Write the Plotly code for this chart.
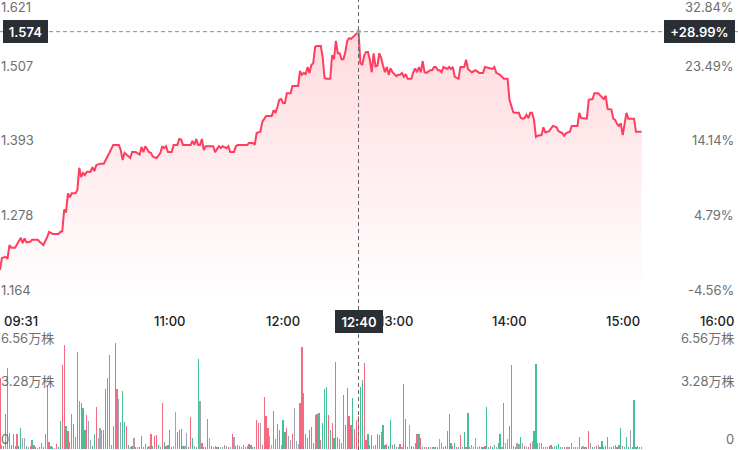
import plotly.graph_objects as go
from datetime import datetime, timedelta

# ---------------- data ----------------
open_time = datetime(2024, 1, 2, 9, 30)

# price line: minutes after 09:30 and price
price_minutes = [
    0, 1, 3, 4, 5, 6, 8, 10, 11, 12,
    13, 14, 16, 17, 20, 21, 23, 25, 26, 28,
    31, 32, 33, 34, 35, 36, 37, 38, 40, 41,
    42, 43, 44, 45, 46, 48, 49, 50, 51, 53,
    55, 56, 57, 58, 60, 63, 64, 65, 66, 67,
    69, 70, 72, 74, 75, 76, 77, 79, 80, 81,
    83, 85, 86, 87, 88, 89, 91, 92, 94, 95,
    96, 97, 101, 102, 103, 104, 105, 106, 107, 108,
    109, 113, 114, 116, 117, 118, 119, 120, 121, 122,
    124, 125, 126, 131, 132, 134, 135, 136, 138, 139,
    141, 144, 145, 146, 147, 148, 149, 150, 151, 152,
    154, 155, 158, 159, 160, 161, 162, 163, 164, 165,
    166, 167, 168, 170, 171, 172, 173, 175, 176, 177,
    178, 179, 180, 181, 182, 183, 184, 185, 186, 187,
    188, 189, 190, 191, 192, 193, 194, 195, 196, 197,
    198, 199, 200, 201, 202, 203, 204, 205, 206, 207,
    208, 210, 211, 212, 213, 214, 215, 216, 218, 219,
    220, 221, 222, 223, 224, 225, 226, 228, 229, 230,
    231, 232, 233, 234, 235, 237, 238, 239, 240, 241,
    242, 243, 244, 246, 247, 248, 250, 252, 254, 256,
    257, 260, 261, 262, 263, 265, 267, 269, 270, 272,
    273, 275, 276, 277, 278, 279, 280, 281, 282, 283,
    284, 285, 287, 288, 289, 291, 293, 295, 296, 298,
    299, 300, 302, 303, 306, 307, 308, 311, 312, 314,
    315, 317, 319, 320, 321, 322, 324, 325, 326, 327,
    328, 329, 330, 331, 332, 333, 336, 337, 340,
]
price_values = [
    1.210, 1.228, 1.230, 1.227, 1.248, 1.244, 1.244, 1.253, 1.259, 1.251,
    1.258, 1.252, 1.253, 1.256, 1.256, 1.253, 1.248, 1.260, 1.268, 1.265,
    1.265, 1.268, 1.269, 1.302, 1.298, 1.327, 1.321, 1.327, 1.327, 1.332,
    1.366, 1.352, 1.358, 1.355, 1.360, 1.360, 1.367, 1.361, 1.370, 1.372,
    1.372, 1.378, 1.383, 1.389, 1.401, 1.401, 1.393, 1.378, 1.389, 1.386,
    1.381, 1.390, 1.390, 1.386, 1.398, 1.390, 1.399, 1.390, 1.389, 1.383,
    1.381, 1.389, 1.399, 1.396, 1.399, 1.390, 1.390, 1.401, 1.401, 1.410,
    1.409, 1.401, 1.401, 1.407, 1.401, 1.410, 1.401, 1.401, 1.410, 1.393,
    1.399, 1.399, 1.390, 1.399, 1.396, 1.399, 1.397, 1.396, 1.399, 1.390,
    1.390, 1.399, 1.401, 1.401, 1.404, 1.404, 1.401, 1.419, 1.421, 1.436,
    1.445, 1.445, 1.454, 1.450, 1.459, 1.470, 1.471, 1.465, 1.465, 1.480,
    1.480, 1.491, 1.491, 1.514, 1.508, 1.511, 1.509, 1.520, 1.511, 1.523,
    1.526, 1.551, 1.552, 1.552, 1.535, 1.503, 1.502, 1.502, 1.538, 1.532,
    1.560, 1.541, 1.541, 1.532, 1.532, 1.543, 1.560, 1.564, 1.563, 1.566,
    1.569, 1.572, 1.574, 1.526, 1.523, 1.538, 1.543, 1.543, 1.531, 1.512,
    1.541, 1.521, 1.522, 1.541, 1.534, 1.522, 1.512, 1.520, 1.508, 1.518,
    1.512, 1.506, 1.508, 1.508, 1.511, 1.505, 1.509, 1.502, 1.502, 1.512,
    1.518, 1.512, 1.520, 1.512, 1.529, 1.512, 1.511, 1.515, 1.515, 1.520,
    1.520, 1.515, 1.515, 1.512, 1.520, 1.517, 1.520, 1.517, 1.520, 1.505,
    1.503, 1.502, 1.520, 1.520, 1.531, 1.517, 1.512, 1.515, 1.511, 1.511,
    1.520, 1.517, 1.517, 1.520, 1.511, 1.508, 1.502, 1.502, 1.470, 1.451,
    1.450, 1.450, 1.442, 1.441, 1.442, 1.447, 1.442, 1.450, 1.450, 1.439,
    1.413, 1.415, 1.416, 1.428, 1.420, 1.422, 1.430, 1.428, 1.422, 1.419,
    1.415, 1.419, 1.421, 1.430, 1.430, 1.450, 1.442, 1.441, 1.470, 1.471,
    1.480, 1.480, 1.473, 1.471, 1.476, 1.456, 1.455, 1.441, 1.439, 1.433,
    1.430, 1.434, 1.416, 1.436, 1.450, 1.441, 1.441, 1.421, 1.421,
]

# per-minute volume (万股), one bar per minute from 09:30
vol_values = [
    4.0, 0.2, 0.15, 2.0, 4.6, 0.9, 0.2, 0.85, 0.15, 0.85,
    0.15, 1.2, 0.6, 0.6, 0.15, 0.1, 0.15, 0.5, 0.2, 0.1,
    0.05, 0.1, 0.35, 0.1, 0.85, 3.6, 0.4, 0.15, 0.1, 0.05,
    0.3, 0.1, 1.6, 4.75, 5.9, 1.3, 1.0, 0.4, 2.0, 1.4,
    0.7, 5.5, 2.7, 2.6, 2.3, 1.05, 1.9, 1.6, 0.5, 0.15,
    0.85, 2.4, 0.65, 1.2, 1.1, 1.05, 3.4, 4.0, 5.3, 0.2,
    1.3, 6.0, 3.4, 2.8, 1.55, 3.3, 1.5, 1.3, 0.2, 0.1,
    0.15, 0.6, 0.1, 0.1, 0.1, 0.75, 0.1, 0.3, 0.1, 0.15,
    0.85, 0.15, 0.75, 0.8, 0.2, 0.1, 2.6, 0.4, 0.15, 0.2,
    1.05, 0.1, 0.15, 2.1, 0.95, 1.1, 1.15, 0.15, 0.15, 0.9,
    0.1, 1.8, 0.6, 0.15, 0.1, 5.1, 2.7, 0.35, 0.1, 0.1,
    1.7, 0.6, 0.15, 0.1, 0.15, 0.1, 0.1, 0.1, 0.1, 0.2,
    0.15, 0.1, 0.1, 0.85, 0.7, 0.15, 0.2, 0.15, 0.1, 0.2,
    0.1, 0.15, 0.28, 0.2, 0.1, 0.1, 1.64, 1.45, 1.45, 0.2,
    2.96, 1.86, 1.2, 0.75, 0.2, 2.16, 0.55, 1.39, 1.08, 0.2,
    1.64, 0.95, 1.2, 0.75, 0.5, 0.85, 2.3, 0.45, 0.3, 2.58,
    5.79, 3.15, 0.83, 0.6, 1.08, 1.23, 0.34, 1.92, 1.98, 2.02,
    0.51, 1.49, 3.37, 3.52, 1.92, 1.08, 1.49, 0.6, 4.92, 0.66,
    0.55, 0.36, 3.05, 1.36, 3.43, 1.86, 1.36, 2.9, 1.13, 1.64,
    1.86, 3.52, 3.9, 4.85, 0.51, 0.83, 0.2, 0.77, 0.15, 0.25,
    0.83, 0.77, 0.96, 1.36, 0.25, 0.3, 0.15, 1.64, 0.2, 0.3,
    0.1, 0.1, 0.3, 0.1, 3.67, 1.67, 0.1, 1.36, 0.15, 0.1,
    0.36, 0.83, 0.83, 0.64, 0.1, 0.1, 0.1, 0.1, 0.1, 0.1,
    0.1, 0.1, 0.1, 0.57, 0.36, 0.1, 0.15, 1.02, 1.98, 0.34,
    0.19, 0.36, 0.1, 0.1, 0.79, 0.1, 0.98, 0.1, 2.05, 0.1,
    0.25, 0.1, 0.6, 0.1, 0.15, 0.1, 0.1, 0.15, 2.35, 0.1,
    0.15, 0.1, 0.25, 0.1, 0.36, 0.83, 0.1, 2.6, 0.34, 0.57,
    1.3, 4.75, 0.15, 0.1, 0.34, 0.3, 0.66, 0.34, 0.15, 0.1,
    0.1, 0.34, 0.47, 1.0, 4.8, 0.34, 0.34, 0.34, 0.1, 0.1,
    0.1, 0.15, 0.2, 0.1, 0.19, 0.15, 0.28, 0.1, 0.1, 0.1,
    0.1, 0.1, 0.1, 0.34, 0.1, 0.1, 0.1, 0.66, 0.1, 0.19,
    0.1, 0.1, 1.02, 0.34, 0.1, 0.1, 0.15, 0.25, 0.1, 0.43,
    0.1, 0.15, 0.66, 0.1, 0.1, 0.15, 0.2, 0.1, 0.2, 1.17,
    0.15, 0.1, 0.66, 0.1, 1.08, 0.1, 2.76, 0.1, 0.19, 0.1, 0.1,
]
# direction of each minute: u = up, d = down, f = flat
vol_dir = """
u u d d u u d d d u
d d f f d f u d u d
f d d d u u u d d f
u d d u u d u d u u
u u d d d d u f f d
d u f f f u u u d u
u u u f f d d u d d
u f d u d u d d d f
u d u u d d u d u d
u d f f d d d d f f
d u d f d d f u d u
u f d u d u d f d u
d u d u f d u u d u
d d u d f d u u f u
u u u f f u d u u f
d d u f f u f f f u
u d u u d u u u u d
u d d d u d u d u d
d d u u u u u d u u
u d d u u d d d f d
d u d d d u d d u d
f d u f u d d f u d
d u d u d u u d u d
f d d f d d u d u d
u d u d u d d u d d
f d f d f d d u d d
u d d d d d f d f f
d d d d f f d f u d
u u f d d u f u d d
u u u d d d d d d u
u f d u d u d u d f
d u u f d d u f d d
u u d d u d d u d d
u d d d f d d d d d d
""".split()

price_ticks = [1.621, 1.507, 1.393, 1.278, 1.164]
pct_labels = ["32.84%", "23.49%", "14.14%", "4.79%", "-4.56%"]
vol_ticks = [6.56, 3.28, 0]
vol_labels = ["6.56万株", "3.28万株", "0"]
time_ticks = ["09:31", "11:00", "12:00", "13:00", "14:00", "15:00", "16:00"]
cross_time = "12:40"
cross_price = 1.574
cross_pct = "+28.99%"

# ---------------- helpers ----------------
def at(hhmm):
    h, m = map(int, hhmm.split(":"))
    return datetime(2024, 1, 2, h, m)

price_x = [open_time + timedelta(minutes=m) for m in price_minutes]
n = min(len(vol_values), len(vol_dir))
vol_x = [open_time + timedelta(minutes=i) for i in range(n)]
dir_color = {"u": "#f24b66", "d": "#1fb27f", "f": "#8a92a3"}
vol_colors = [dir_color.get(d, "#8a92a3") for d in vol_dir[:n]]

FONT = "Inter, 'Noto Sans CJK SC', sans-serif"
GRAY = "#6e6e6e"

fig = go.Figure()
fig.add_trace(go.Scatter(
    x=price_x, y=price_values, mode="lines",
    line=dict(color="#ff3d5e", width=2),
    fill="tozeroy",
    fillgradient=dict(type="vertical",
                      colorscale=[[0, "rgba(255,70,90,0.0)"], [1, "rgba(255,70,90,0.20)"]],
                      start=1.164, stop=1.574),
    xaxis="x", yaxis="y", hoverinfo="skip", showlegend=False,
))
fig.add_trace(go.Bar(
    x=vol_x, y=vol_values[:n], marker=dict(color=vol_colors, line=dict(width=0)),
    opacity=0.82,
    width=38000, xaxis="x2", yaxis="y2", hoverinfo="skip", showlegend=False,
))
fig.add_trace(go.Scatter(
    x=[at(cross_time)], y=[cross_price], mode="markers",
    marker=dict(size=4, color="#9cc49a", symbol="square"),
    xaxis="x", yaxis="y", hoverinfo="skip", showlegend=False,
))

x_end = open_time + timedelta(minutes=391.1)
H = 450.0
fig.update_layout(
    width=738, height=450,
    margin=dict(l=0, r=0, t=0, b=0),
    paper_bgcolor="white", plot_bgcolor="white",
    font=dict(family=FONT),
    bargap=0,
    hovermode=False,
    xaxis=dict(domain=[0, 1], range=[open_time, x_end], type="date", visible=False, anchor="y"),
    yaxis=dict(domain=[1 - 300 / H, 1], range=[1.164, 1.6224], visible=False, anchor="x"),
    xaxis2=dict(domain=[0, 1], range=[open_time, x_end], type="date", visible=False, anchor="y2", matches="x"),
    yaxis2=dict(domain=[1 / H, 117 / H], range=[0, 6.56], visible=False, anchor="x2"),
)

dash = "4px,3px"
fig.add_shape(type="line", xref="x", yref="paper", x0=at(cross_time), x1=at(cross_time),
              y0=0, y1=1, line=dict(color="#666666", width=1, dash=dash))
fig.add_shape(type="line", xref="paper", yref="y", x0=0, x1=1, y0=cross_price, y1=cross_price,
              line=dict(color="#8a8a8a", width=1, dash=dash))

ann = []
# price / percent labels
for i, (v, p) in enumerate(zip(price_ticks, pct_labels)):
    top = i == 0
    common = dict(y=v, yref="y", yanchor="top" if top else "bottom", yshift=4 if top else 0,
                  showarrow=False, font=dict(size=13, color=GRAY, family=FONT))
    ann.append(dict(text=f"{v:.3f}", x=0, xref="paper", xanchor="left", xshift=-1, **common))
    ann.append(dict(text=p, x=1, xref="paper", xanchor="right", xshift=-2, **common))
# volume labels
for i, (v, t) in enumerate(zip(vol_ticks, vol_labels)):
    top = i == 0
    common = dict(y=v, yref="y2", yanchor="top" if top else "bottom", yshift=5 if top else 0,
                  showarrow=False, font=dict(size=13, color=GRAY, family=FONT))
    ann.append(dict(text=t, x=0, xref="paper", xanchor="left", xshift=-1, **common))
    ann.append(dict(text=t, x=1, xref="paper", xanchor="right", xshift=-2, **common))
# time labels
ty = (H - 321) / H
for i, t in enumerate(time_ticks):
    xa = "left" if i == 0 else ("right" if i == len(time_ticks) - 1 else "center")
    ann.append(dict(text=t, x=at(t), xref="x", y=ty, yref="paper", yanchor="middle",
                    xanchor=xa, xshift=0, showarrow=False,
                    font=dict(size=13, color="#222222", family=FONT, weight=500)))
# crosshair labels
box = dict(showarrow=False, bgcolor="#2a2e35", borderpad=0, borderwidth=0, height=23,
           font=dict(size=13, color="white", family=FONT, weight=600), yanchor="middle")
ann.append(dict(text=f"{cross_price:.3f}", x=0, xref="paper", xanchor="left", xshift=3,
                y=cross_price, yref="y", width=45, **box))
ann.append(dict(text=cross_pct, x=1, xref="paper", xanchor="right", xshift=-3,
                y=cross_price, yref="y", width=71, **box))
ann.append(dict(text=cross_time, x=at(cross_time), xref="x", xanchor="center",
                y=(H - 321.5) / H, yref="paper", width=48, **box))
fig.update_layout(annotations=ann)

fig.write_html("out.html", config={"displayModeBar": False, "staticPlot": True},
               post_script="document.body.style.margin='0';document.body.style.padding='0';")
